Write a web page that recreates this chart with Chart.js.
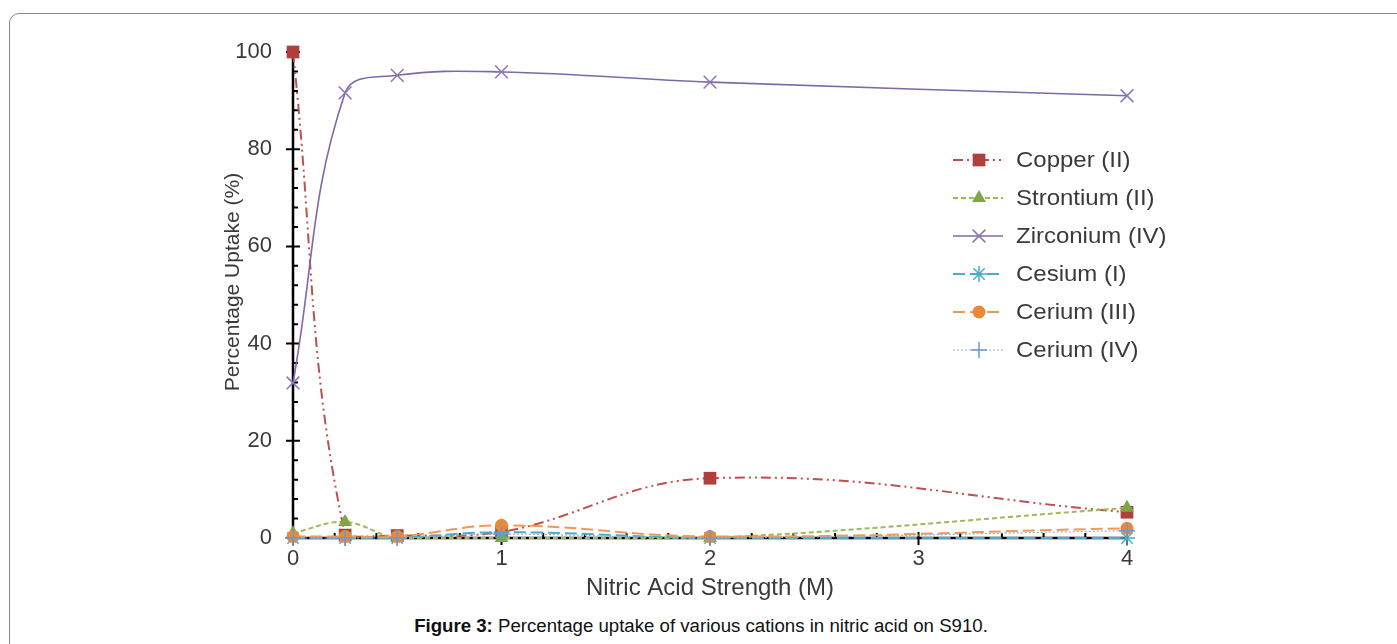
<!DOCTYPE html>
<html>
<head>
<meta charset="utf-8">
<script src="https://cdn.jsdelivr.net/npm/chart.js@4/dist/chart.umd.min.js"></script>
<style>
  html, body { margin: 0; padding: 0; background: #fff; width: 1397px; height: 644px; overflow: hidden; }
  #frame { position: absolute; left: 9px; top: 13px; width: 1500px; height: 700px; border: 1.5px solid #8a8a8a; border-radius: 10px; box-sizing: border-box; }
  #wrap { position: absolute; left: 0; top: 0; width: 1397px; height: 606px; }
  #caption { position: absolute; left: 0; width: 1402px; top: 616px; text-align: center; font-family: "Liberation Sans", Arial, sans-serif; font-size: 18px; color: #111; transform: scaleX(1.035); transform-origin: 701px 0; }
</style>
</head>
<body>
<div id="frame"></div>
<div id="wrap"><canvas id="c" width="1397" height="606"></canvas></div>
<div id="caption"><b>Figure 3:</b> Percentage uptake of various cations in nitric acid on S910.</div>
<script>
// ---- data ----
const xValues = [0, 0.25, 0.5, 1, 2, 4];
const seriesNames = ["Copper (II)", "Strontium (II)", "Zirconium (IV)", "Cesium (I)", "Cerium (III)", "Cerium (IV)"];
const copper    = [100, 0.6, 0.5, 1.2, 12.3, 5.3];
const strontium = [1.0, 3.3, 0.0, 0.0, 0.0, 6.2];
const zirconium = [31.9, 91.6, 95.2, 95.9, 93.8, 91.0];
const cesium    = [0, 0, 0, 1.2, 0, 0];
const ceriumIII = [0.3, 0.3, 0.3, 2.6, 0.3, 2.0];
const ceriumIV  = [0, 0, 0, 0.8, 0, 1.5];
const xTicks = [0, 1, 2, 3, 4];
const yTicks = [0, 20, 40, 60, 80, 100];
const xTitle = 'Nitric Acid Strength (M)';
const yTitle = 'Percentage Uptake (%)';

const styles = [
  { line: '#C0504D', fill: '#B0403D', dash: [10,4,2,4,2,4], width: 2,   point: 'rect',     r: 9 },
  { line: '#9BBB59', fill: '#7FA548', dash: [5,3],          width: 2,   point: 'triangle', r: 8 },
  { line: '#7E68A8', fill: '#8A76B4', dash: [],             width: 1.6, point: 'crossRot', r: 9 },
  { line: '#4BACC6', fill: '#4BACC6', dash: [12,5],         width: 2,   point: 'star',     r: 8 },
  { line: '#EE9A55', fill: '#E8893A', dash: [12,5],         width: 2,   point: 'circle',   r: 6.5 },
  { line: '#8FAEDB', fill: '#6F96CF', dash: [2,2],          width: 1.2, point: 'cross',    r: 8 }
];
const allSeries = [copper, strontium, zirconium, cesium, ceriumIII, ceriumIV];

const FONT = '"Liberation Sans", Arial, sans-serif';
const TXT = '#3a3a3a';

const datasets = allSeries.map((arr, i) => {
  const s = styles[i];
  const pointLine = (s.point === 'crossRot' || s.point === 'star' || s.point === 'cross');
  return {
    label: seriesNames[i],
    data: xValues.map((x, k) => ({ x: x, y: arr[k] })),
    borderColor: s.line,
    borderWidth: s.width,
    borderDash: s.dash,
    backgroundColor: s.fill,
    pointStyle: s.point,
    pointRadius: s.r,
    pointHoverRadius: s.r,
    pointBackgroundColor: s.fill,
    pointBorderColor: s.fill,
    pointBorderWidth: pointLine ? 1.5 : 0,
    tension: 0.4,
    fill: false,
    order: 6 - i,
    clip: false
  };
});

const axesPlugin = {
  id: 'axesPlugin',
  beforeDatasetsDraw(chart) {
    const ctx = chart.ctx;
    const xs = chart.scales.x, ys = chart.scales.y;
    const x0 = xs.getPixelForValue(0), y0 = ys.getPixelForValue(0);
    const xEnd = xs.getPixelForValue(4), yTop = ys.getPixelForValue(100);
    ctx.save();
    ctx.strokeStyle = '#000';
    ctx.lineWidth = 2.5;
    ctx.beginPath();
    ctx.moveTo(x0, yTop); ctx.lineTo(x0, y0 + 1);
    ctx.moveTo(x0 - 1, y0); ctx.lineTo(xEnd, y0);
    ctx.stroke();
    ctx.lineWidth = 2;
    ctx.beginPath();
    for (let v = 0; v <= 100.001; v += 4) {
      const p = ys.getPixelForValue(v);
      if (Math.abs(v % 20) < 0.001) { ctx.moveTo(x0 - 7, p); ctx.lineTo(x0 + 7, p); }
      else { ctx.moveTo(x0 - 1, p); ctx.lineTo(x0 + 5, p); }
    }
    for (let k = 0; k <= 20; k++) {
      const p = xs.getPixelForValue(k * 0.2);
      if (k % 5 === 0) { ctx.moveTo(p, y0 - 6); ctx.lineTo(p, y0 + 7); }
      else { ctx.moveTo(p, y0 - 5); ctx.lineTo(p, y0 + 1); }
    }
    ctx.stroke();
    // y axis title
    ctx.save();
    ctx.translate(233, 282);
    ctx.rotate(-Math.PI / 2);
    ctx.fillStyle = TXT;
    ctx.font = '21px ' + FONT;
    ctx.textAlign = 'center';
    ctx.textBaseline = 'middle';
    ctx.fillText(yTitle, 0, 0);
    ctx.restore();
    ctx.restore();
  }
};

const legendPlugin = {
  id: 'customLegend',
  afterDraw(chart) {
    const ctx = chart.ctx;
    const startY = 160, step = 38, lx0 = 953, lx1 = 1003, mx = 979, tx = 1016;
    ctx.save();
    seriesNames.forEach((name, i) => {
      const s = styles[i];
      const y = startY + i * step;
      ctx.strokeStyle = s.line;
      ctx.lineWidth = s.width;
      ctx.setLineDash(s.dash);
      ctx.beginPath(); ctx.moveTo(lx0, y); ctx.lineTo(lx1, y); ctx.stroke();
      ctx.setLineDash([]);
      const pointLine = (s.point === 'crossRot' || s.point === 'star' || s.point === 'cross');
      ctx.fillStyle = s.fill;
      ctx.strokeStyle = s.fill;
      ctx.lineWidth = pointLine ? 1.5 : 0.01;
      Chart.helpers.drawPoint(ctx, { pointStyle: s.point, radius: s.r, rotation: 0, borderWidth: ctx.lineWidth }, mx, y);
      ctx.save();
      ctx.translate(tx, y + 1);
      ctx.scale(1.09, 1);
      ctx.fillStyle = TXT;
      ctx.font = '22px ' + FONT;
      ctx.textBaseline = 'middle';
      ctx.textAlign = 'left';
      ctx.fillText(name, 0, 0);
      ctx.restore();
    });
    ctx.restore();
  }
};

new Chart(document.getElementById('c'), {
  type: 'line',
  data: { datasets: datasets },
  options: {
    responsive: false,
    animation: false,
    events: [],
    layout: { padding: { left: 0, top: 52, right: 270, bottom: 0 } },
    plugins: { legend: { display: false }, tooltip: { enabled: false } },
    scales: {
      x: {
        type: 'linear', min: 0, max: 4,
        afterBuildTicks: (s) => { s.ticks = xTicks.map(v => ({ value: v })); },
        afterFit: (s) => { s.height = 68; },
        grid: { display: true, drawOnChartArea: false, drawTicks: true, tickLength: 6, color: 'rgba(0,0,0,0)' },
        border: { display: false },
        ticks: { color: TXT, font: { family: FONT, size: 22 }, padding: 2, maxRotation: 0 },
        title: { display: true, text: xTitle, color: TXT, font: { family: FONT, size: 24 }, padding: { top: 0, bottom: 3 } }
      },
      y: {
        type: 'linear', min: 0, max: 100,
        afterBuildTicks: (s) => { s.ticks = yTicks.map(v => ({ value: v })); },
        afterFit: (s) => { s.width = 293; },
        grid: { display: true, drawOnChartArea: false, drawTicks: true, tickLength: 8, color: 'rgba(0,0,0,0)' },
        border: { display: false },
        ticks: { color: TXT, font: { family: FONT, size: 22 }, padding: 13 },
        title: { display: false }
      }
    }
  },
  plugins: [axesPlugin, legendPlugin]
});
</script>
</body>
</html>
